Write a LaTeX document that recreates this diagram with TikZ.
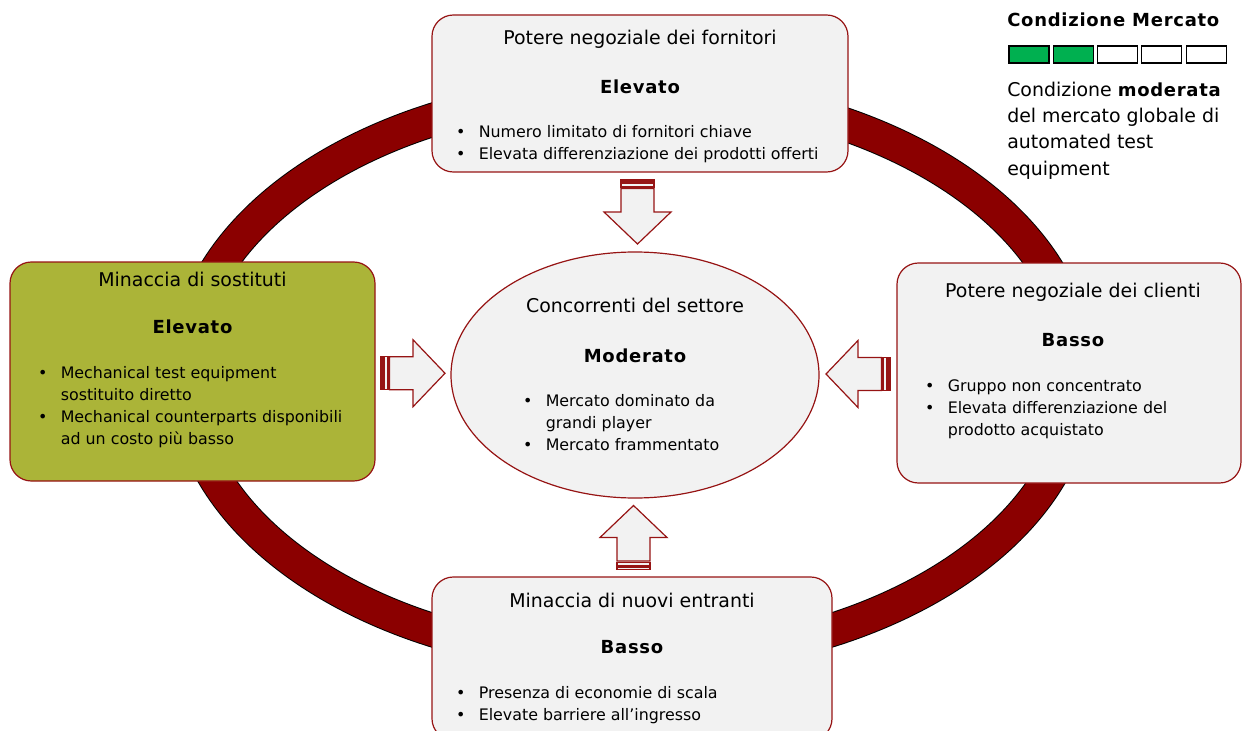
\documentclass[tikz,border=0pt]{standalone}
\usepackage{fontspec}
\setmainfont{DejaVu Sans}
\newfontfamily\widebold[LetterSpace=4]{DejaVu Sans}
\usetikzlibrary{shapes.geometric,calc,positioning}
\definecolor{ringred}{RGB}{139, 0, 0}
\definecolor{boxred}{RGB}{150, 20, 20}
\definecolor{light}{RGB}{242, 242, 242}
\definecolor{olive}{RGB}{171, 180, 56}
\definecolor{condgreen}{RGB}{0, 176, 80}
\newcommand{\pnt}{\makebox[17pt][l]{\textbullet}}
\newcommand{\pad}{\hspace*{17pt}}
\tikzstyle{force} = [
    rectangle,
    rounded corners=16pt,
    draw=boxred,
    line width=0.9pt,
    fill=light,
    inner sep=0pt
]
\tikzstyle{arrowline} = [
    draw=boxred,
    line width=0.9pt,
    fill=light
]
\tikzset{
    stripedarrow/.pic={
        \draw[arrowline] (-32,-16.5) rectangle (-30,16.5);
        \draw[arrowline] (-28.5,-16.5) rectangle (-25,16.5);
        \draw[arrowline] (-23.5,-16.5) -- (0,-16.5) -- (0,-33.5) -- (32,0)
            -- (0,33.5) -- (0,16.5) -- (-23.5,16.5) -- cycle;
    }
}

\begin{document}
\begin{tikzpicture}[
                x=0.75pt, y=-0.75pt,
                title/.style={font=\fontsize{14.2}{17}\selectfont},
                level/.style={font=\widebold\bfseries\fontsize{13.5}{16}\selectfont},
                points/.style={anchor=west, align=left,
                    font=\fontsize{11.9}{16.5}\selectfont},
                cell/.style={draw=black, line width=0.8pt,
                    minimum width=30pt, minimum height=12.75pt, inner sep=0pt}
            ]
                \useasboundingbox (0,0) rectangle (1242,731);
                % ring behind the forces
                \draw[draw=black, double=ringred, double distance=24pt, line width=0.75pt]
                    (632,375) ellipse [x radius=447, y radius=285];
                % the five forces
                \node[force, minimum width=312pt, minimum height=117.75pt] (top) at (640,93.5) {};
                \node[force, fill=olive, minimum width=273.75pt, minimum height=164.25pt] (left) at (192.5,371.5) {};
                \node[force, minimum width=258pt, minimum height=165pt] (right) at (1069,373) {};
                \node[force, minimum width=300pt, minimum height=122.25pt] (bottom) at (632,658.5) {};
                \node[ellipse, draw=boxred, line width=0.9pt, fill=light,
                    minimum width=276pt, minimum height=184.5pt, inner sep=0pt] (comp) at (635,375) {};
                % striped arrows
                \pic[rotate=-90] at ($(top.south)!0.5!(comp.north)$) {stripedarrow};
                \pic at ($(left.east)!0.5!(comp.west)$) {stripedarrow};
                \pic[rotate=180] at ($(right.west)!0.5!(comp.east)$) {stripedarrow};
                \pic[rotate=90] at ($(bottom.north)!0.5!(comp.south)$) {stripedarrow};
                % texts
                \node[title] (toptitle) at ($(top.north)+(0,25)$) {Potere negoziale dei fornitori};
                \node[level] (toplevel) at ($(top.north)+(0,72)$) {Elevato};
                \node[points] (toppoints) at ($(top.west)+(20,50.5)$)
                    {\pnt Numero limitato di fornitori chiave\\
                     \pnt Elevata differenziazione dei prodotti offerti};
                \node[title] (lefttitle) at ($(left.north)+(0,18)$) {Minaccia di sostituti};
                \node[level] (leftlevel) at ($(left.north)+(0,65)$) {Elevato};
                \node[points] (leftpoints) at ($(left.west)+(24,35.5)$)
                    {\pnt Mechanical test equipment\\
                     \pad sostituito diretto\\
                     \pnt Mechanical counterparts disponibili\\
                     \pad ad un costo più basso};
                \node[title] (righttitle) at ($(right.north)+(4,30)$) {Potere negoziale dei clienti};
                \node[level] (rightlevel) at ($(right.north)+(4,78)$) {Basso};
                \node[points] (rightpoints) at ($(right.west)+(24,36)$)
                    {\pnt Gruppo non concentrato\\
                     \pnt Elevata differenziazione del\\
                     \pad prodotto acquistato};
                \node[title] (bottomtitle) at ($(bottom.north)+(0,24)$) {Minaccia di nuovi entranti};
                \node[level] (bottomlevel) at ($(bottom.north)+(0,71)$) {Basso};
                \node[points] (bottompoints) at ($(bottom.west)+(20,47)$)
                    {\pnt Presenza di economie di scala\\
                     \pnt Elevate barriere all’ingresso};
                \node[title] (comptitle) at ($(comp.north)+(0,54)$) {Concorrenti del settore};
                \node[level] (complevel) at ($(comp.north)+(0,104)$) {Moderato};
                \node[points] (comppoints) at ($(comp.west)+(68,48)$)
                    {\pnt Mercato dominato da\\
                     \pad grandi player\\
                     \pnt Mercato frammentato};
                % legend
                \node[anchor=west, inner sep=0pt, font=\widebold\bfseries\fontsize{13.5}{16}\selectfont]
                    (legtitle) at (1007,20) {Condizione Mercato};
                \foreach \i/\c in {0/condgreen,1/condgreen,2/white,3/white,4/white}
                    \node[cell, fill=\c] (cell\i) at (1029+44.3*\i,54.5) {};
                \node[anchor=west, align=left, inner sep=0pt, font=\fontsize{14.2}{19.7}\selectfont]
                    (legtext) at (1007,130.5)
                    {Condizione {\widebold\bfseries\fontsize{13.5}{19.7}\selectfont moderata}\\
                     del mercato globale di\\
                     automated test\\
                     equipment};
            \end{tikzpicture}
\end{document}
